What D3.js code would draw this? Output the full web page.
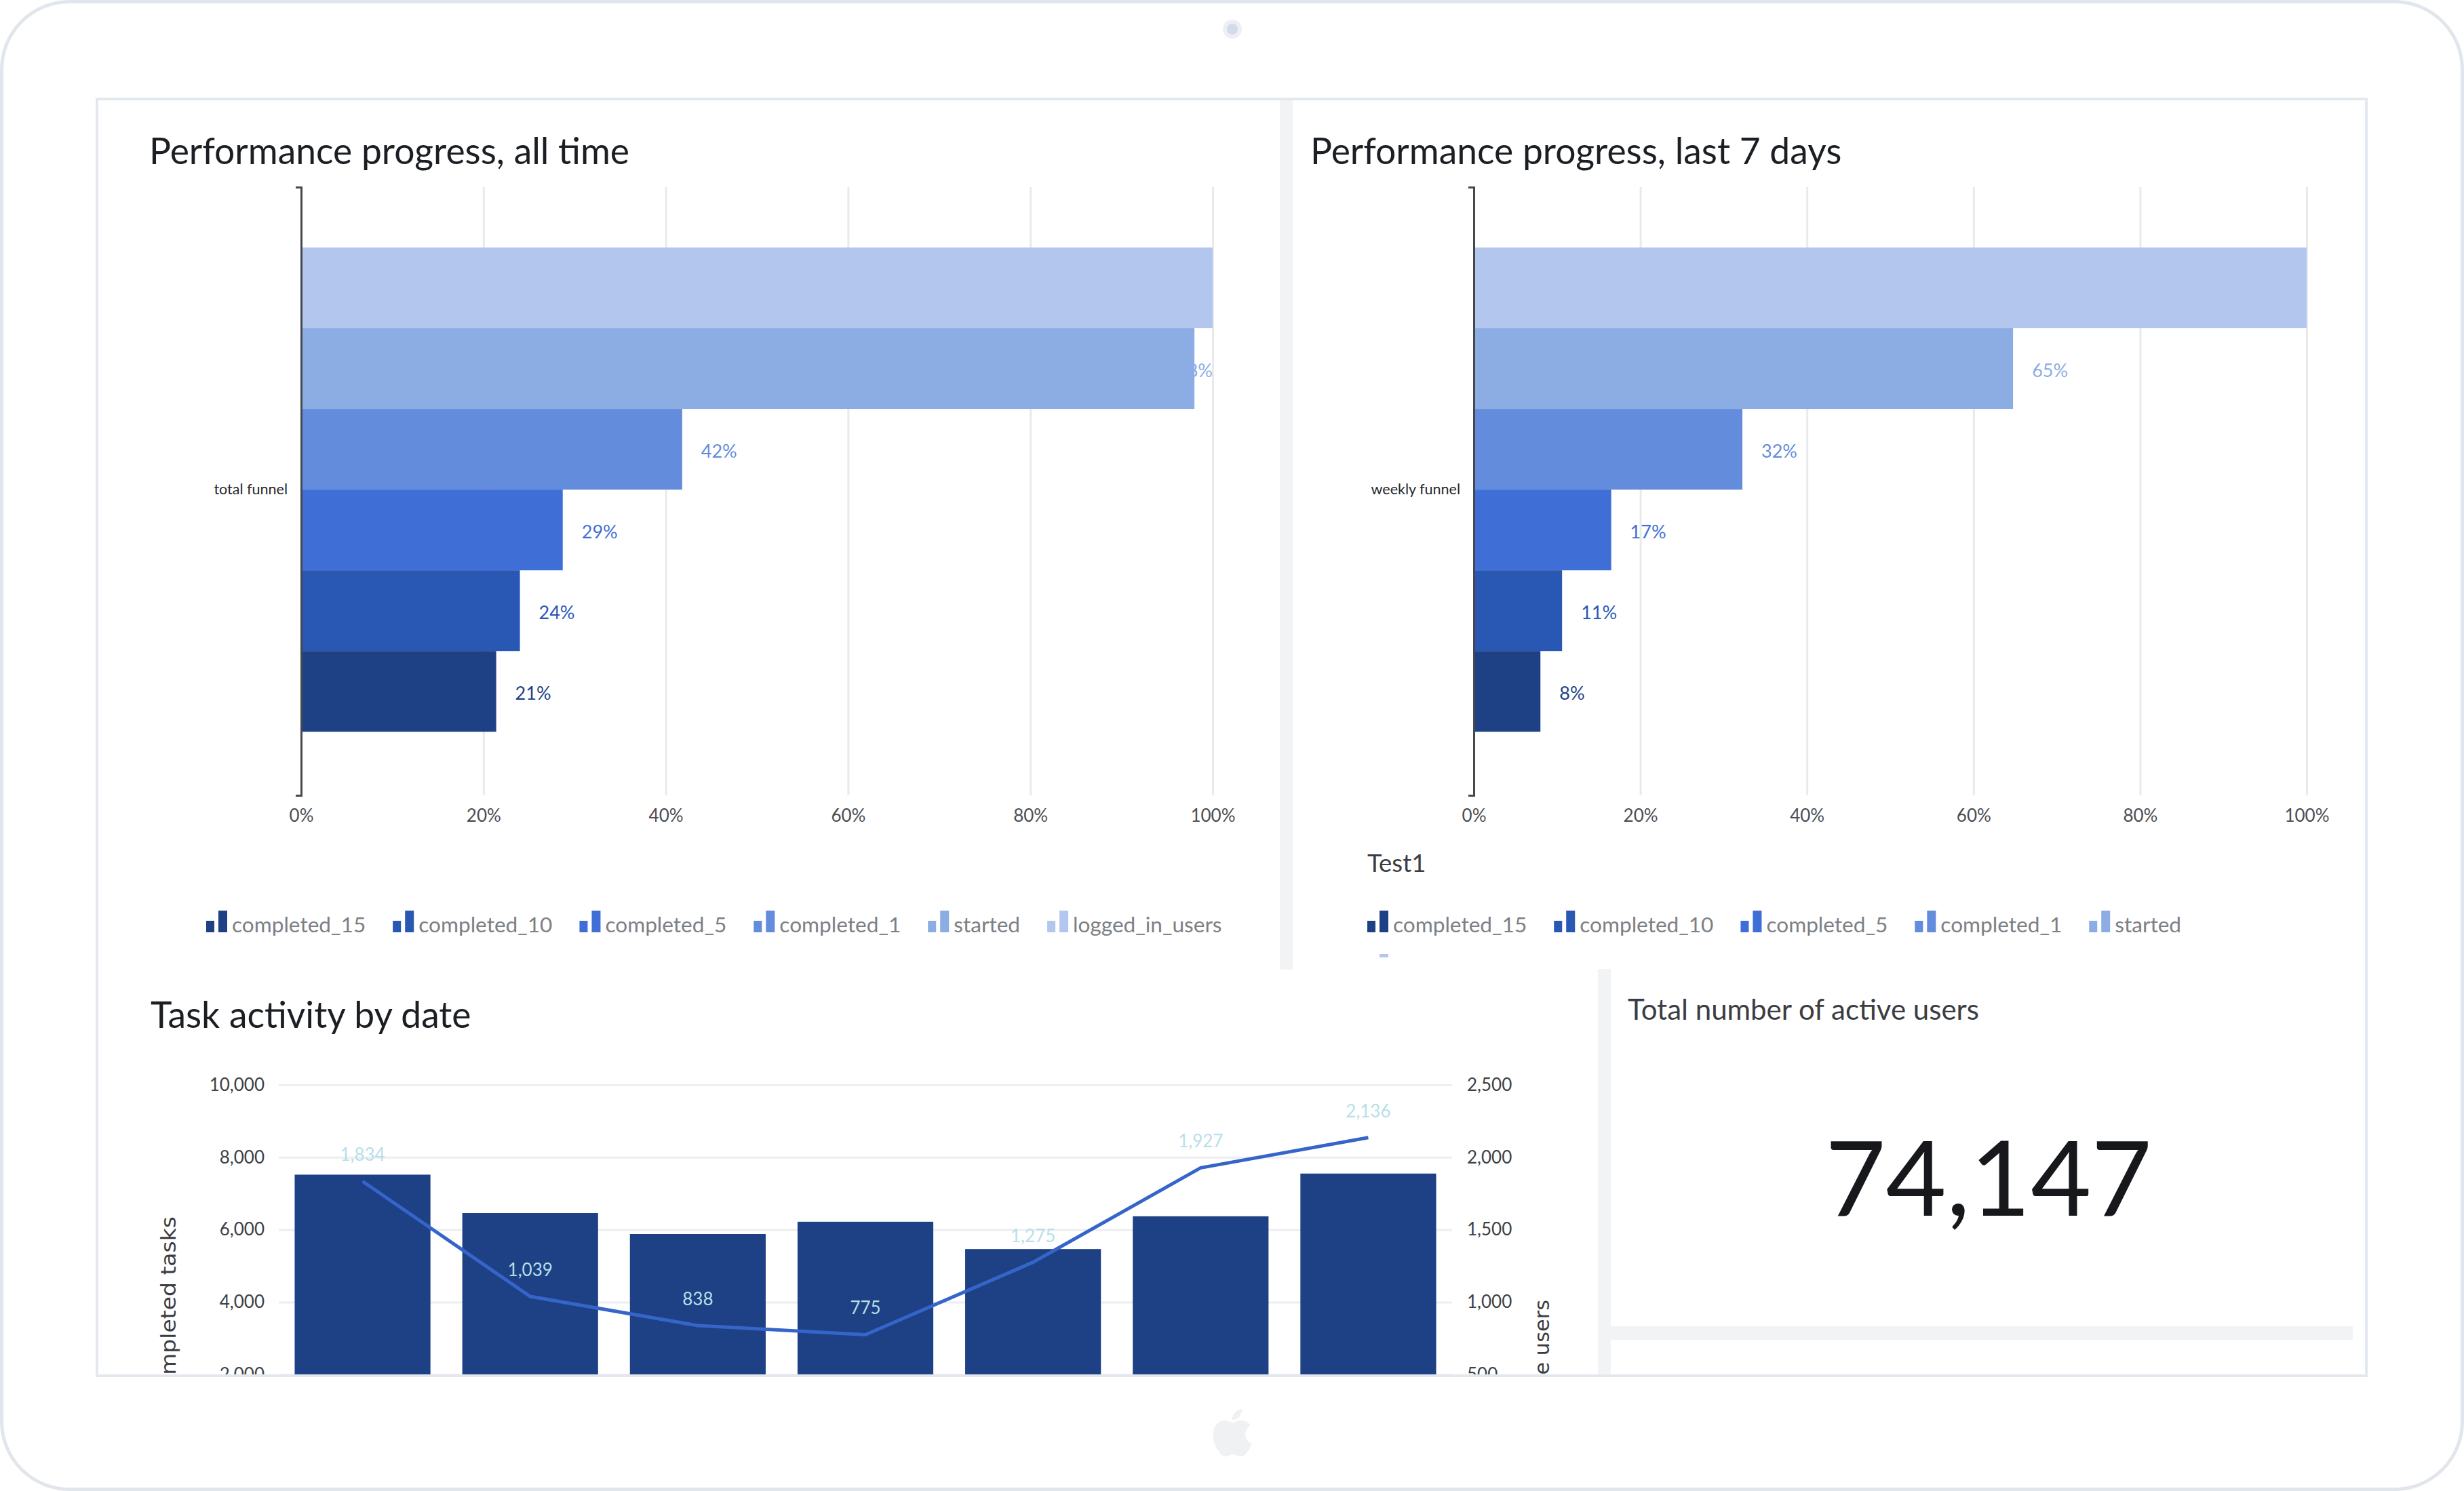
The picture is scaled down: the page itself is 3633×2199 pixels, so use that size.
<!DOCTYPE html>
<html><head><meta charset="utf-8">
<script src="https://cdn.jsdelivr.net/npm/d3@7/dist/d3.min.js"></script>
<style>
html,body{margin:0;padding:0;background:#fff}
svg{display:block}
text{font-family:Lato,"Noto Sans",sans-serif}
</style></head><body>
<svg id="c" width="3633" height="2199" viewBox="0 0 3633 2199"></svg>
<script>
// ---- data ----
const funnelSeries = ["logged_in_users","started","completed_1","completed_5","completed_10","completed_15"];
const seriesColors = ["#b3c7ee","#8cace4","#638cdc","#3f6fd6","#2857b4","#1e4085"];
const allTimeValues = [1, 0.98, 0.418, 0.287, 0.24, 0.214];
const lastWeekValues = [1, 0.6475, 0.3225, 0.165, 0.106, 0.08];
const percentTicks = [0, 0.2, 0.4, 0.6, 0.8, 1];
const taskDates = ["d1","d2","d3","d4","d5","d6","d7"];
const completedTasks = [7520, 6460, 5880, 6220, 5465, 6370, 7550];
const activeUsers = [1834, 1039, 838, 775, 1275, 1927, 2136];
const totalActiveUsers = 74147;

const svg = d3.select("#c");
const defs = svg.append("defs");
const clip = (id,x,y,w,h)=>defs.append("clipPath").attr("id",id).append("rect").attr("x",x).attr("y",y).attr("width",w).attr("height",h);
clip("clipTaskPanel",150,1430,2206,597);
clip("clipLegendL",150,1300,1730,112);
clip("clipLegendR",1910,1300,1570,112);

const APPLE = "M12.152 6.896c-.948 0-2.415-1.078-3.96-1.04-2.04.027-3.91 1.183-4.961 3.014-2.117 3.675-.546 9.103 1.519 12.09 1.013 1.454 2.208 3.09 3.792 3.039 1.52-.065 2.09-.987 3.935-.987 1.831 0 2.35.987 3.96.948 1.637-.026 2.676-1.48 3.676-2.948 1.156-1.688 1.636-3.325 1.662-3.415-.039-.013-3.182-1.221-3.22-4.857-.026-3.04 2.48-4.494 2.597-4.559-1.429-2.09-3.623-2.324-4.39-2.376-2-.156-3.675 1.09-4.61 1.09zM15.53 3.83c.843-1.012 1.4-2.427 1.245-3.83-1.207.052-2.662.805-3.532 1.818-.78.896-1.454 2.338-1.273 3.714 1.338.104 2.715-.688 3.559-1.701";

// ---- device shell ----
svg.append("rect").attr("x",2.5).attr("y",2.5).attr("width",3628).attr("height",2194).attr("rx",100)
  .attr("fill","#fff").attr("stroke","#e1e5ec").attr("stroke-width",5);
svg.append("circle").attr("cx",1817).attr("cy",43).attr("r",14).attr("fill","#eeeff2");
svg.append("circle").attr("cx",1817).attr("cy",43).attr("r",8).attr("fill","#d3daec");
svg.append("path").attr("d",APPLE).attr("transform","translate(1782,2078) scale(2.92)").attr("fill","#f0f1f3");

// ---- panel dividers ----
const divider = (x,y,w,h)=>svg.append("rect").attr("x",x).attr("y",y).attr("width",w).attr("height",h).attr("fill","#f2f3f5");
divider(1887,147,19,1283);
divider(2356,1429,19,600);
divider(2375,1956,1094,20);

function title(txt,x,y,size,fill){
  return svg.append("text").attr("x",x).attr("y",y).attr("font-size",size).attr("fill",fill||"#1b1f24").text(txt);
}

// ---- funnel charts ----
function funnel(cfg){
  const top=276,bottom=1173;
  const x=d3.scaleLinear().domain([0,1]).range(cfg.xr);
  const y0=d3.scaleBand().domain([cfg.cat]).range([top,bottom]).paddingInner(0).paddingOuter(0.128).align(0.487);
  const y1=d3.scaleBand().domain(funnelSeries).range([0,y0.bandwidth()]);
  const color=d3.scaleOrdinal().domain(funnelSeries).range(seriesColors);
  const rows=funnelSeries.map((s,i)=>({s,v:cfg.values[i]}));
  const g=svg.append("g");

  const xa=g.append("g").attr("transform",`translate(0,${bottom})`)
    .call(d3.axisBottom(x).tickValues(percentTicks).tickFormat(d3.format(".0%")).tickSize(-(bottom-top)).tickPadding(21));
  xa.select(".domain").remove();
  xa.selectAll("line").attr("stroke","#e9eaed").attr("stroke-width",3);
  xa.selectAll("text").attr("font-size",26).attr("fill","#4a4d52");

  // labels sit behind the bars and are pushed back inside the plot when they would overflow
  const labels=g.append("g").selectAll("text").data(rows).join("text")
    .attr("y",d=>y0(cfg.cat)+y1(d.s)+y1.bandwidth()/2+3).attr("dy","0.35em")
    .attr("font-size",27)
    .attr("fill",d=>color(d.s)).text(d=>d3.format(".0%")(d.v));
  labels.attr("x",function(d){return Math.min(x(d.v)+28,cfg.xr[1]-this.getComputedTextLength());});

  g.append("g").selectAll("rect").data(rows).join("rect")
    .attr("x",x(0)).attr("y",d=>y0(cfg.cat)+y1(d.s))
    .attr("width",d=>x(d.v)-x(0)).attr("height",y1.bandwidth()).attr("fill",d=>color(d.s));

  const ya=g.append("g").attr("transform",`translate(${x(0)},0)`)
    .call(d3.axisLeft(y0).tickSizeInner(0).tickSizeOuter(8).tickPadding(20));
  ya.select(".domain").attr("stroke","#45484d").attr("stroke-width",3);
  ya.selectAll("text").attr("font-size",21.5).attr("fill","#26282c");

  // legend: flowing rows, clipped by the panel
  const lg=g.append("g").attr("clip-path",`url(#${cfg.clip})`);
  let lx=cfg.legendX,ly=1343;
  funnelSeries.slice().reverse().forEach(s=>{
    const item=lg.append("g");
    const t=item.append("text").attr("font-size",cfg.legendFont).attr("fill","#7d8085").text(s);
    const w=t.node().getComputedTextLength();
    if(lx+38+w>cfg.legendMax){lx=cfg.legendX;ly+=64;}
    item.attr("transform",`translate(${lx},${ly})`);
    t.attr("x",38).attr("y",32);
    item.append("rect").attr("x",0).attr("y",15).attr("width",12).attr("height",17).attr("fill",color(s));
    item.append("rect").attr("x",18).attr("y",0).attr("width",13).attr("height",32).attr("fill",color(s));
    lx+=38+w+40;
  });
}
funnel({cat:"total funnel",values:allTimeValues,xr:[444,1788],legendX:304,legendMax:1830,clip:"clipLegendL",legendFont:31.6});
funnel({cat:"weekly funnel",values:lastWeekValues,xr:[2173,3401],legendX:2016,legendMax:3440,clip:"clipLegendR",legendFont:31.6});

title("Performance progress, all time",220,242,53.4);
title("Performance progress, last 7 days",1932,242,53.4);
title("Test1",2016,1286,36.5,"#3a3d42");

// ---- task activity ----
const panel=svg.append("g").attr("clip-path","url(#clipTaskPanel)");
const yL=d3.scaleLinear().domain([0,10000]).range([2134,1600]);
const yR=d3.scaleLinear().domain([0,2500]).range([2134,1600]);
const xB=d3.scaleBand().domain(taskDates).range([411,2141]).paddingInner(0.19).paddingOuter(0.095).align(0.5);
const gl=panel.append("g").attr("transform","translate(411,0)")
  .call(d3.axisLeft(yL).tickValues([0,2000,4000,6000,8000,10000]).tickFormat(d3.format(",")).tickSize(-1730).tickPadding(21));
gl.select(".domain").remove();
gl.selectAll("line").attr("stroke","#eceef1").attr("stroke-width",3);
gl.selectAll("text").attr("font-size",26).attr("fill","#3d4045");
const gr=panel.append("g").attr("transform","translate(2141,0)")
  .call(d3.axisRight(yR).tickValues([0,500,1000,1500,2000,2500]).tickFormat(d3.format(",")).tickSize(0).tickPadding(22));
gr.select(".domain").remove();
gr.selectAll("text").attr("font-size",26).attr("fill","#3d4045");

panel.append("g").selectAll("rect").data(taskDates).join("rect")
  .attr("x",d=>xB(d)).attr("width",xB.bandwidth())
  .attr("y",(d,i)=>yL(completedTasks[i])).attr("height",(d,i)=>yL(0)-yL(completedTasks[i]))
  .attr("fill","#1e4085");
const cx=d=>xB(d)+xB.bandwidth()/2;
panel.append("path").datum(taskDates)
  .attr("d",d3.line().x(cx).y((d,i)=>yR(activeUsers[i])))
  .attr("fill","none").attr("stroke","#3565c9").attr("stroke-width",5);
panel.append("g").selectAll("text").data(taskDates).join("text")
  .attr("x",cx).attr("y",(d,i)=>yR(activeUsers[i])-30)
  .attr("text-anchor","middle").attr("font-size",26).attr("fill","#b7dfe9")
  .text((d,i)=>d3.format(",")(activeUsers[i]));

panel.append("text").attr("transform","translate(259,1794) rotate(-90) scale(1,0.9)").attr("text-anchor","end")
  .style("font-family","DejaVu Sans").attr("font-size",33).attr("fill","#3a3d42").text("Completed tasks");
panel.append("text").attr("transform","translate(2284,1917) rotate(-90)").attr("text-anchor","end")
  .style("font-family","DejaVu Sans").attr("font-size",30.4).attr("fill","#3a3d42").text("Active users");

title("Task activity by date",222,1516,53.4);

// ---- KPI ----
title("Total number of active users",2400,1504,42,"#3a3d42");
svg.append("text").attr("x",2932).attr("y",1793).attr("text-anchor","middle").attr("font-size",154).attr("fill","#16181c").text(d3.format(",")(totalActiveUsers));

// ---- dashboard frame ----
svg.append("rect").attr("x",143).attr("y",146).attr("width",3346).attr("height",1883).attr("fill","none").attr("stroke","#e3e8ef").attr("stroke-width",4);
</script></body></html>
